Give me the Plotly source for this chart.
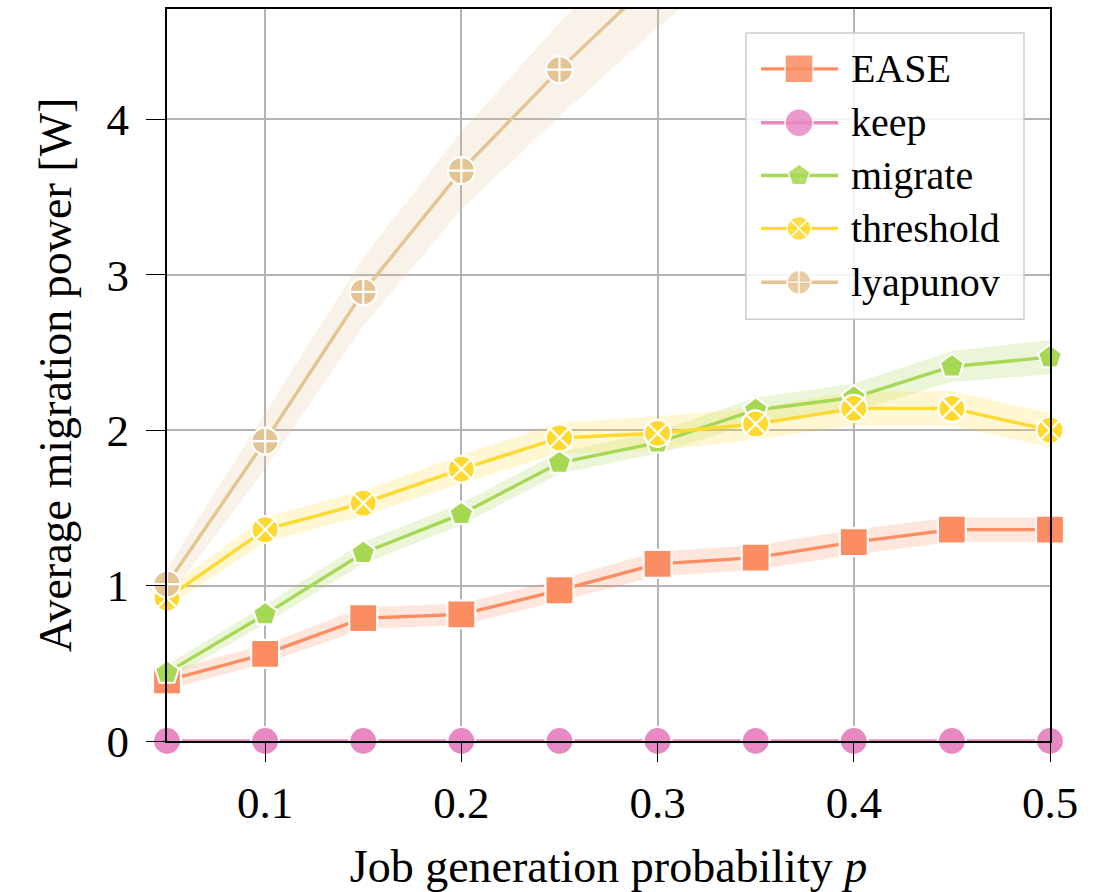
import plotly.graph_objects as go

# ---------------- data ----------------
p = [0.05, 0.10, 0.15, 0.20, 0.25, 0.30, 0.35, 0.40, 0.45, 0.50]

ease = [0.39, 0.56, 0.79, 0.815, 0.97, 1.14, 1.18, 1.28, 1.36, 1.36]
ease_err = [0.06, 0.06, 0.07, 0.07, 0.07, 0.08, 0.08, 0.08, 0.08, 0.08]

keep = [0, 0, 0, 0, 0, 0, 0, 0, 0, 0]
keep_err = [0, 0, 0, 0, 0, 0, 0, 0, 0, 0]

migrate = [0.44, 0.815, 1.21, 1.46, 1.79, 1.92, 2.13, 2.21, 2.41, 2.47]
migrate_err = [0.05, 0.06, 0.07, 0.07, 0.07, 0.07, 0.08, 0.09, 0.10, 0.11]

threshold = [0.92, 1.36, 1.53, 1.75, 1.95, 1.98, 2.04, 2.14, 2.14, 2.00]
threshold_err = [0.06, 0.08, 0.08, 0.09, 0.10, 0.11, 0.10, 0.11, 0.11, 0.11]

lyapunov = [1.01, 1.93, 2.89, 3.67, 4.32, 4.92, 5.45, 5.95, 6.40, 6.80]
lyapunov_err = [0.10, 0.18, 0.22, 0.25, 0.30, 0.33, 0.35, 0.37, 0.40, 0.42]

names = ["EASE", "keep", "migrate", "threshold", "lyapunov"]
values = [ease, keep, migrate, threshold, lyapunov]
errors = [ease_err, keep_err, migrate_err, threshold_err, lyapunov_err]

x_ticks = [0.1, 0.2, 0.3, 0.4, 0.5]
x_ticktext = ["0.1", "0.2", "0.3", "0.4", "0.5"]
y_ticks = [0, 1, 2, 3, 4]
y_ticktext = ["0", "1", "2", "3", "4"]

# ---------------- styles ----------------
colors = ["#fc8d62", "#e78ac3", "#a6d854", "#ffd92f", "#e5c494"]
symbols = ["square", "circle", "pentagon", "circle-x", "circle-cross"]
msizes = [28, 28, 25, 27, 27]
leg_msizes = [28, 28, 23, 24, 24]
FONT = "Liberation Serif"


def rgba(hexc, a):
    h = hexc.lstrip("#")
    return "rgba(%d,%d,%d,%.2f)" % (int(h[0:2], 16), int(h[2:4], 16), int(h[4:6], 16), a)


fig = go.Figure()

# confidence bands
for name, v, e, c in zip(names, values, errors, colors):
    if max(e) == 0:
        continue
    upper = [a + b for a, b in zip(v, e)]
    lower = [a - b for a, b in zip(v, e)]
    fig.add_trace(go.Scatter(
        x=p + p[::-1], y=upper + lower[::-1],
        fill="toself", fillcolor=rgba(c, 0.22),
        line=dict(width=0), mode="lines",
        hoverinfo="skip", showlegend=False,
    ))

# lines + markers
for name, v, c, s, ms in zip(names, values, colors, symbols, msizes):
    fig.add_trace(go.Scatter(
        x=p, y=v, name=name, mode="lines+markers",
        line=dict(color=c, width=3.4),
        marker=dict(symbol=s, size=ms, color=c, line=dict(color="white", width=2.2)),
        cliponaxis=False, showlegend=False,
    ))

# ---------------- custom legend (pixel-like helper axes) ----------------
row_y = [67, 121, 174, 227, 281]
leg_line_x0, leg_line_x1, leg_mark_x, leg_text_x = 761, 838, 799, 849
box_x = [746, 1024, 1024, 746, 746]
box_y = [31, 31, 318, 318, 31]

fig.add_trace(go.Scatter(
    x=box_x, y=box_y, xaxis="x2", yaxis="y2", mode="lines",
    fill="toself", fillcolor="rgba(255,255,255,0.85)",
    line=dict(color="#cccccc", width=1.5),
    cliponaxis=False, showlegend=False, hoverinfo="skip",
))

for y, c in zip(row_y, colors):
    fig.add_trace(go.Scatter(
        x=[leg_line_x0, leg_line_x1], y=[y, y], xaxis="x2", yaxis="y2", mode="lines",
        line=dict(color=c, width=3.4),
        cliponaxis=False, showlegend=False, hoverinfo="skip",
    ))

for y, c, s, ms in zip(row_y, colors, symbols, leg_msizes):
    fig.add_trace(go.Scatter(
        x=[leg_mark_x], y=[y], xaxis="x2", yaxis="y2", mode="markers",
        marker=dict(symbol=s, size=ms, color=c, opacity=0.85,
                    line=dict(color="white", width=1.5)),
        cliponaxis=False, showlegend=False, hoverinfo="skip",
    ))

annotations = []
for y, n in zip(row_y, names):
    annotations.append(dict(x=leg_text_x, y=y, xref="x2", yref="y2", text=n,
                            showarrow=False, xanchor="left", yanchor="middle",
                            font=dict(family=FONT, size=40, color="black")))

axis_common = dict(
    showgrid=True, gridcolor="#b3b3b3", gridwidth=1.8,
    showline=True, linecolor="black", linewidth=1.8, mirror=True,
    ticks="outside", ticklen=19, tickcolor="black", tickwidth=1.3,
    zeroline=False,
    tickfont=dict(family=FONT, size=45, color="black"),
)

fig.update_layout(
    width=1114, height=892,
    margin=dict(l=167, r=64, t=7, b=151),
    paper_bgcolor="white", plot_bgcolor="white",
    showlegend=False,
    xaxis=dict(range=[0.05, 0.5], tickvals=x_ticks, ticktext=x_ticktext,
               title=dict(text="Job generation probability <i>p</i>",
                          font=dict(family=FONT, size=46, color="black"), standoff=23),
               ticklabelstandoff=2,
               **axis_common),
    yaxis=dict(range=[0, 4.71], tickvals=y_ticks, ticktext=y_ticktext,
               title=dict(text="Average migration power [W]",
                          font=dict(family=FONT, size=46, color="black"), standoff=20),
               ticklabelstandoff=8,
               **axis_common),
    xaxis2=dict(range=[167, 1050], overlaying="x", anchor="y2", visible=False,
                fixedrange=True),
    yaxis2=dict(range=[741, 7], overlaying="y", anchor="x2", visible=False,
                fixedrange=True),
    annotations=annotations,
)

fig.write_html("out.html")
